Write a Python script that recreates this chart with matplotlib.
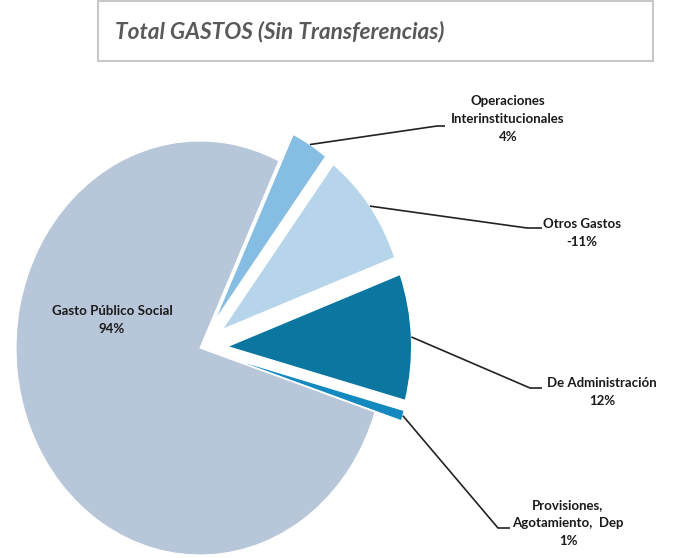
import numpy as np
import matplotlib
matplotlib.use("Agg")
import matplotlib.pyplot as plt
from matplotlib.patches import Rectangle

# data
categorias = ["Gasto Público Social", "Operaciones\nInterinstitucionales", "Otros Gastos",
              "De Administración", "Provisiones,\nAgotamiento,  Dep"]
porcentajes = [94, 4, -11, 12, 1]
colores = ["#B7C6D9", "#86BDE2", "#B6D4EA", "#0B76A0", "#1489C0"]
explode = [0.0, 0.15, 0.15, 0.15, 0.15]

W, H = 673, 558
# pie centre and radii in pixels (chart is stretched vertically)
CX, CY, RX, RY = 200, 348, 184, 207

def px(x, y):
    # pixel (from top-left) -> data coords of the pie axes
    return (x - CX) / RX, (CY - y) / RY

plt.rcParams['font.family'] = ['Lato', 'DejaVu Sans']

fig = plt.figure(figsize=(W / 100, H / 100), dpi=100)
ax = fig.add_axes([0, 0, 1, 1])

wedges, _ = ax.pie(np.abs(porcentajes), colors=colores, explode=explode,
                   startangle=-18, counterclock=False, radius=1,
                   wedgeprops=dict(edgecolor="white", linewidth=0.8))
ax.set_aspect('auto')
x0, y0 = px(0, H)
x1, y1 = px(W, 0)
ax.set_xlim(x0, x1)
ax.set_ylim(y0, y1)
ax.axis('off')

# label positions (pixels) and leader elbows
pos_etiqueta = [(112, 320), (508, 119), (582, 233), (602, 392), (568, 523)]
codos = [None, [(437, 126), (445, 126)], [(527, 228), (542, 228)],
         [(530, 388), (542, 388)], [(498, 528), (510, 528)]]

for i, w in enumerate(wedges):
    texto = "%s\n%d%%" % (categorias[i], porcentajes[i])
    lx, ly = px(*pos_etiqueta[i])
    ax.text(lx, ly, texto, ha='center', va='center', fontsize=9.5,
            fontweight='bold', color='#1a1a1a', linespacing=1.6)
    if codos[i] is None:
        continue
    ang = np.deg2rad((w.theta1 + w.theta2) / 2)
    cx, cy = w.center
    xs = [cx + w.r * np.cos(ang)]
    ys = [cy + w.r * np.sin(ang)]
    for (ex, ey) in codos[i]:
        dx, dy = px(ex, ey)
        xs.append(dx)
        ys.append(dy)
    ax.plot(xs, ys, color='#222222', lw=1.2, solid_capstyle='butt')

# title box
fig.patches.append(Rectangle((98 / W, 1 - 61 / H), (653 - 98) / W, 60 / H,
                             transform=fig.transFigure, fill=False,
                             edgecolor='#C8C8C8', lw=1.5))
fig.text(115 / W, 1 - 38 / H, "Total GASTOS (Sin Transferencias)",
         ha='left', va='baseline', fontsize=16.3, style='italic',
         fontweight='bold', color='#595959')

fig.savefig("out.png", dpi=100)
